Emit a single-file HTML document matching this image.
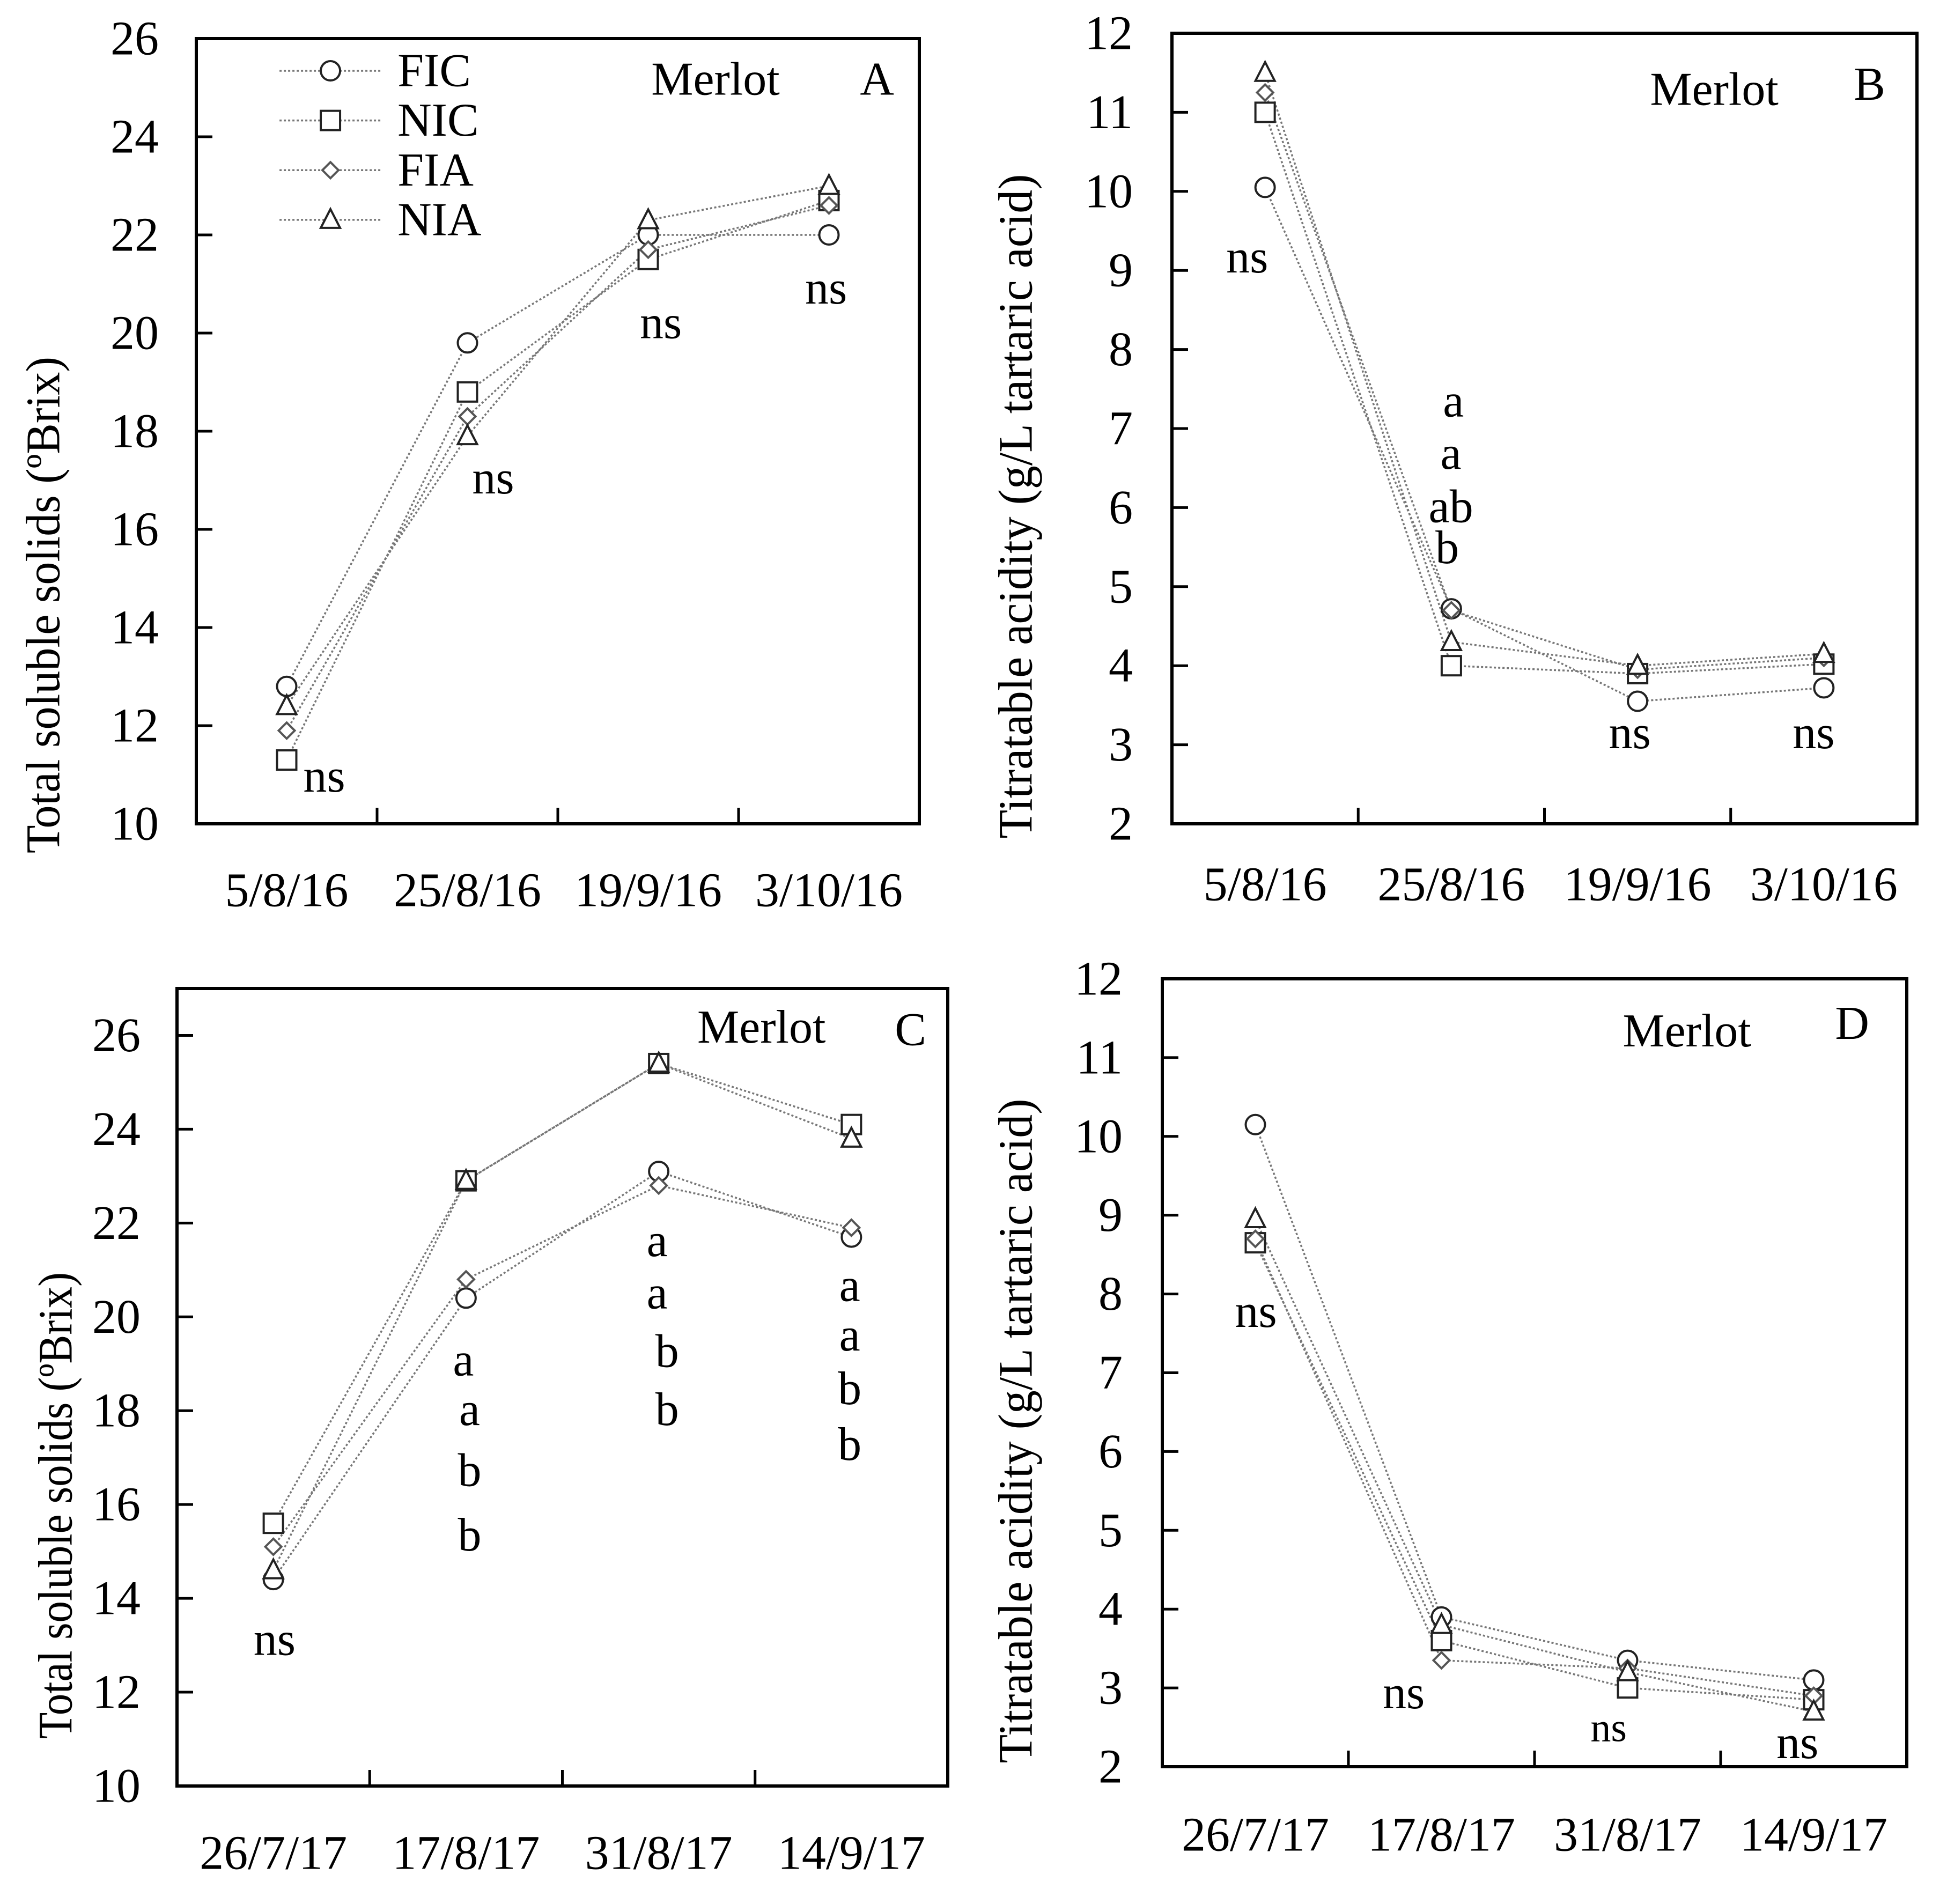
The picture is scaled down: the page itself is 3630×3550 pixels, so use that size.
<!DOCTYPE html>
<html><head><meta charset="utf-8">
<style>
html,body{margin:0;padding:0;background:#fff;}
svg{display:block;font-family:"Liberation Serif","DejaVu Serif",serif;}
svg text{font-family:"Liberation Serif","DejaVu Serif",serif;fill:#000;}
</style></head>
<body>
<svg id="fig" width="3630" height="3550" viewBox="0 0 3630 3550" xmlns="http://www.w3.org/2000/svg" font-family="Liberation Serif, DejaVu Serif, serif"></svg>
<script>
const series = ['FIC','NIC','FIA','NIA'];
const markers = ['circle','square','diamond','triangle'];
const catsA = ['5/8/16','25/8/16','19/9/16','3/10/16'];
const catsC = ['26/7/17','17/8/17','31/8/17','14/9/17'];
const ticksTSS = [10,12,14,16,18,20,22,24,26];
const ticksTA = [2,3,4,5,6,7,8,9,10,11,12];
const aFIC = [12.8,19.8,22.0,22.0];
const aNIC = [11.3,18.8,21.5,22.7];
const aFIA = [11.9,18.3,21.7,22.6];
const aNIA = [12.4,17.9,22.3,23.0];
const bFIC = [10.05,4.72,3.55,3.72];
const bNIC = [11.0,4.0,3.9,4.02];
const bFIA = [11.25,4.7,3.95,4.1];
const bNIA = [11.5,4.3,4.0,4.15];
const cFIC = [14.4,20.4,23.1,21.7];
const cNIC = [15.6,22.9,25.4,24.1];
const cFIA = [15.1,20.8,22.8,21.9];
const cNIA = [14.6,22.9,25.4,23.8];
const dFIC = [10.15,3.9,3.35,3.1];
const dNIC = [8.65,3.6,3.0,2.85];
const dFIA = [8.7,3.35,3.25,2.9];
const dNIA = [8.95,3.8,3.2,2.7];

const NS='http://www.w3.org/2000/svg';
const FONT='"Liberation Serif", "DejaVu Serif", serif';
const svg=document.getElementById('fig');
function el(tag,attrs,parent){const e=document.createElementNS(NS,tag);for(const k in attrs)e.setAttribute(k,attrs[k]);(parent||svg).appendChild(e);return e;}
function txt(s,x,y,size,anchor,parent){const t=el('text',{x:x,y:y,'font-size':size,'text-anchor':anchor||'middle','dominant-baseline':'central','font-family':FONT,fill:'#000'},parent);t.style.fontFamily=FONT;t.textContent=s;return t;}

function marker(type,x,y,g){
  const st={fill:'#fff',stroke:'#222','stroke-width':4};
  let m;
  if(type==='circle'){m=el('circle',Object.assign({cx:x,cy:y,r:18},st),g);}
  else if(type==='square'){m=el('rect',Object.assign({x:x-18,y:y-18,width:36,height:36},st),g);}
  else if(type==='diamond'){m=el('polygon',Object.assign({points:`${x},${y-15} ${x+15},${y} ${x},${y+15} ${x-15},${y}`},st),g);m.setAttribute('stroke','#555');}
  else {m=el('polygon',Object.assign({points:`${x},${y-20} ${x+18},${y+15} ${x-18},${y+15}`},st),g);}
  return m;
}

function panel(p){
  const g=el('g',{});
  
  
  const xs=i=>p.L+(p.R-p.L)*(i+0.5)/4;
  const ys=v=>p.B-(v-p.ymin)/(p.ymax-p.ymin)*(p.B-p.T);
  const f=el('rect',{x:p.L,y:p.T,width:p.R-p.L,height:p.B-p.T,fill:'none',stroke:'#000','stroke-width':6},g);
  
  
  p.ticks.forEach(v=>{
    const y=ys(v);
    el('line',{x1:p.L,x2:p.L+30,y1:y,y2:y,stroke:'#000','stroke-width':5},g);
    const t=txt(String(v),p.labR,y,90,'end',g);
    
    
  });
  for(let i=1;i<4;i++){const x=p.L+(p.R-p.L)*i/4;el('line',{x1:x,x2:x,y1:p.B,y2:p.B-30,stroke:'#000','stroke-width':5},g);}
  p.cats.forEach((c,i)=>{
    const t=txt(c,xs(i),p.catY,90,'middle',g);
    
    
  });
  const tt=el('text',{x:0,y:0,'font-size':90,'text-anchor':'middle','dominant-baseline':'central','font-family':FONT,fill:'#000',transform:`translate(${p.titX},${p.titY}) rotate(-90)`,textLength:p.titLen,lengthAdjust:'spacingAndGlyphs'},g);
  tt.style.fontFamily=FONT;
  tt.textContent=p.title;
  
  
  p.data.forEach((arr,si)=>{
    const pts=arr.map((v,i)=>xs(i)+','+ys(v)).join(' ');
    const l=el('polyline',{points:pts,fill:'none',stroke:'#777','stroke-width':3.5,'stroke-dasharray':'4 4'},g);
    
    
  });
  p.data.forEach((arr,si)=>{
    arr.forEach((v,i)=>{
      const m=marker(markers[si],xs(i),ys(v),g);
      
      
    });
  });
  p.notes.forEach(n=>{
    const t=txt(n[0],n[1],n[2],n[3]||88,'middle',g);
    
    
  });
  const mt=txt('Merlot',p.mer[0],p.mer[1],88,'middle',g);
  
  
  const lt=txt(p.letter,p.let[0],p.let[1],88,'middle',g);
  
  
  return g;
}
const s=2.316;
panel({name:'panel-a',L:366,R:1714,T:72,B:1536,ymin:10,ymax:26,ticks:ticksTSS,labR:296,cats:catsA,catY:1660,
  title:'Total soluble solids (ºBrix)',titX:81,titY:1128,titLen:926,data:[aFIC,aNIC,aFIA,aNIA],letter:'A',
  mer:[576*s,64*s],let:[706*s,64*s],
  notes:[['ns',261*s,625*s],['ns',397*s,385*s],['ns',532*s,260*s],['ns',665*s,232*s]]});
panel({name:'panel-b',L:2185,R:3574,T:62,B:1536,ymin:2,ymax:12,ticks:ticksTA,labR:2112,cats:catsA,catY:1649,
  title:'Titratable  acidity (g/L tartaric acid)',titX:1894,titY:944,titLen:1239,data:[bFIC,bNIC,bFIA,bNIA],letter:'B',
  mer:[1380*s,72*s],let:[1505*s,68*s],
  notes:[['ns',1004*s,207*s],['a',1170*s,323*s],['a',1168*s,365*s],['ab',1168*s,408*s],['b',1165*s,441*s],['ns',1312*s,590*s],['ns',1460*s,590*s]]});
panel({name:'panel-c',L:330,R:1767,T:1843,B:3330,ymin:10,ymax:27,ticks:ticksTSS,labR:262,cats:catsC,catY:3455,
  title:'Total soluble solids (ºBrix)',titX:104,titY:2807,titLen:870,data:[cFIC,cNIC,cFIA,cNIA],letter:'C',
  mer:[613*s,827*s],let:[733*s,829*s],
  notes:[['ns',221*s,1320*s],['a',373*s,1095*s],['a',378*s,1135*s],['b',378*s,1184*s],['b',378*s,1236*s],
         ['a',529*s,999*s],['a',529*s,1041*s],['b',537*s,1088*s],['b',537*s,1135*s],
         ['a',684*s,1035*s],['a',684*s,1075*s],['b',684*s,1118*s],['b',684*s,1163*s]]});
panel({name:'panel-d',L:2167,R:3555,T:1825,B:3294,ymin:2,ymax:12,ticks:ticksTA,labR:2093,cats:catsC,catY:3421,
  title:'Titratable acidity (g/L tartaric acid)',titX:1894,titY:2668,titLen:1239,data:[dFIC,dNIC,dFIA,dNIA],letter:'D',
  mer:[1358*s,830*s],let:[1491*s,824*s],
  notes:[['ns',1011*s,1056*s],['ns',1130*s,1363*s],['ns',1295*s,1391*s,76],['ns',1447*s,1403*s]]});
const lg=el('g',{});


series.forEach((n,i)=>{
  const y=(57+40*i)*s;
  const e=el('g',{},lg);
  
  
  el('line',{x1:225*s,x2:307*s,y1:y,y2:y,stroke:'#777','stroke-width':3.5,'stroke-dasharray':'4 4'},e);
  marker(markers[i],266*s,y,e);
  txt(n,320*s,y,88,'start',e);
});
</script>
</body></html>
